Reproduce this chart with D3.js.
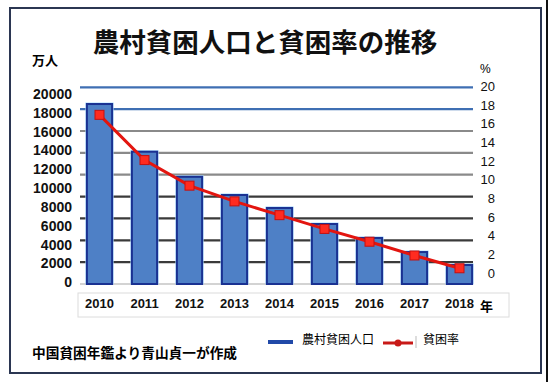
<!DOCTYPE html>
<html><head><meta charset="utf-8">
<script src="https://cdn.jsdelivr.net/npm/d3@7"></script>
<style>html,body{margin:0;padding:0;background:#fff;}svg{display:block;}</style>
</head><body>
<script>
const years = ['2010','2011','2012','2013','2014','2015','2016','2017','2018'];
const poorPop = [18300, 13450, 10900, 9050, 7730, 6100, 4680, 3250, 1930];
const povertyRate = [17.2, 12.6, 10.0, 8.4, 7.0, 5.6, 4.3, 2.9, 1.6];
const leftTicks = [0,2000,4000,6000,8000,10000,12000,14000,16000,18000,20000];
const rightTicks = [0,2,4,6,8,10,12,14,16,18,20];
const gridLevels = [0,1,2,3,4,5,6,7,8,9];
const gridColors = ['#c4c4c4','#3a3a3a','#3a3a3a','#3a3a3a','#3a3a3a','#8a8a8a','#8a8a8a','#8a8a8a','#3f6fb3','#3f6fb3'];

const W = 550, H = 382;
const svg = d3.select('body').append('svg').attr('width', W).attr('height', H);
svg.append('rect').attr('width', W).attr('height', H).attr('fill', '#fff');

// frame
svg.append('rect').attr('x',10).attr('y',8).attr('width',531).attr('height',365)
  .attr('fill','none').attr('stroke','#2b3652').attr('stroke-width',2);
svg.append('line').attr('x1',547).attr('x2',547).attr('y1',0).attr('y2',H)
  .attr('stroke','#111').attr('stroke-width',2);

// title
svg.append('text').attr('x',265).attr('y',40).attr('text-anchor','middle')
  .attr('dominant-baseline','central')
  .style('font-family','"Noto Sans CJK JP"').style('font-weight','bold').style('font-size','26.5px')
  .attr('fill','#111').text('農村貧困人口と貧困率の推移');

svg.append('text').attr('x',32).attr('y',59.5).attr('dominant-baseline','central')
  .style('font-family','"Noto Sans CJK JP"').style('font-weight','bold').style('font-size','13px')
  .text('万人');
svg.append('text').attr('x',480).attr('y',69).attr('dominant-baseline','central')
  .style('font-family','"Liberation Sans"').style('font-size','12px')
  .text('%');

// scales
const x = d3.scaleBand().domain(years).range([77, 482]).paddingInner(0.44).paddingOuter(0.22);
const yLeft = d3.scaleLinear().domain([0, 20000]).range([284, 87.3]);
const yRight = d3.scaleLinear().domain([0, 20]).range([284, 87.3]);
const yGrid = d3.scaleLinear().domain([0, 9]).range([284, 87.3]);
const yLeftLabel = d3.scaleLinear().domain([0, 20000]).range([282.3, 94]);
const yRightLabel = d3.scaleLinear().domain([0, 20]).range([273, 86.5]);

// gridlines
svg.append('g').selectAll('line').data(gridLevels).join('line')
  .attr('x1', 80).attr('x2', 473)
  .attr('y1', d => yGrid(d)).attr('y2', d => yGrid(d))
  .attr('stroke', (d,i) => gridColors[i])
  .attr('stroke-width', d => d === 0 ? 1.5 : 2.2);

// bars
const bars = svg.append('g');
bars.selectAll('rect.glow').data(years).join('rect').attr('class','glow')
  .attr('x', d => x(d) - 1.5).attr('width', x.bandwidth() + 3)
  .attr('y', (d,i) => yLeft(poorPop[i]) - 1.5)
  .attr('height', (d,i) => yLeft(0) - yLeft(poorPop[i]) + 1.5)
  .attr('fill', '#a9dcff');
bars.selectAll('rect.bar').data(years).join('rect').attr('class','bar')
  .attr('x', d => x(d)).attr('width', x.bandwidth())
  .attr('y', (d,i) => yLeft(poorPop[i]))
  .attr('height', (d,i) => yLeft(0) - yLeft(poorPop[i]))
  .attr('fill', '#4e80c6').attr('stroke', '#1a3192').attr('stroke-width', 2);

// line
const line = d3.line().x((d,i) => x(years[i]) + x.bandwidth()/2).y(d => yRight(d));
svg.append('path').datum(povertyRate).attr('d', line)
  .attr('fill','none').attr('stroke','#e3150f').attr('stroke-width',3);
svg.append('g').selectAll('rect').data(povertyRate).join('rect')
  .attr('x', (d,i) => x(years[i]) + x.bandwidth()/2 - 4.5)
  .attr('y', d => yRight(d) - 4.5)
  .attr('width', 9).attr('height', 9)
  .attr('fill', '#ff2b20').attr('stroke', '#c41010').attr('stroke-width', 1);

// axes
const la = svg.append('g').attr('transform','translate(74,0)')
  .call(d3.axisLeft(yLeftLabel).tickValues(leftTicks).tickFormat(d3.format('d')).tickSize(0).tickPadding(2));
la.select('.domain').remove();
la.selectAll('text').style('font-family','"Liberation Sans"').style('font-weight','bold')
  .style('font-size','14px').attr('fill','#111');

const ra = svg.append('g').attr('transform','translate(478,0)')
  .call(d3.axisRight(yRightLabel).tickValues(rightTicks).tickFormat(d3.format('d')).tickSize(0).tickPadding(3));
ra.select('.domain').remove();
ra.selectAll('text').style('font-family','"Liberation Sans"').style('font-size','13px')
  .attr('text-anchor','end').attr('x', 17).attr('fill','#111');

// x label box
svg.append('rect').attr('x',78).attr('y',293).attr('width',431).attr('height',24)
  .attr('fill','none').attr('stroke','#dcdcdc').attr('stroke-width',1);
const xa = svg.append('g').attr('transform','translate(0,294)')
  .call(d3.axisBottom(x).tickSize(0).tickPadding(5));
xa.select('.domain').remove();
xa.selectAll('text').style('font-family','"Liberation Sans"').style('font-weight','bold')
  .style('font-size','13px').attr('fill','#111');
svg.append('text').attr('x',480).attr('y',305).attr('dominant-baseline','central')
  .style('font-family','"Noto Sans CJK JP"').style('font-weight','bold').style('font-size','13px')
  .text('年');

// legend
svg.append('line').attr('x1',268).attr('x2',293).attr('y1',342).attr('y2',342)
  .attr('stroke','#2149a8').attr('stroke-width',4);
svg.append('text').attr('x',302).attr('y',338).attr('dominant-baseline','central')
  .style('font-family','"Noto Sans CJK JP"').style('font-size','12px').text('農村貧困人口');
svg.append('line').attr('x1',383).attr('x2',413).attr('y1',343).attr('y2',343)
  .attr('stroke','#c81a18').attr('stroke-width',3);
svg.append('circle').attr('cx',398).attr('cy',343).attr('r',3.5).attr('fill','#c81a18');
svg.append('line').attr('x1',416).attr('x2',416).attr('y1',336).attr('y2',348)
  .attr('stroke','#bbb').attr('stroke-width',1);
svg.append('text').attr('x',423).attr('y',338).attr('dominant-baseline','central')
  .style('font-family','"Noto Sans CJK JP"').style('font-size','12px').text('貧困率');

// source
svg.append('text').attr('x',32).attr('y',352).attr('dominant-baseline','central')
  .style('font-family','"Noto Sans CJK JP"').style('font-weight','bold').style('font-size','13.7px')
  .text('中国貧困年鑑より青山貞一が作成');
</script>
</body></html>
